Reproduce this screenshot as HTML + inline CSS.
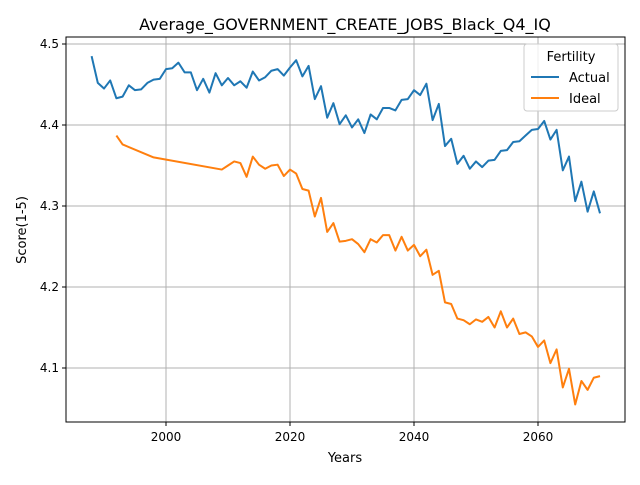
<!DOCTYPE html>
<html><head><meta charset="utf-8"><style>
body{margin:0;background:#fff;font-family:"Liberation Sans","DejaVu Sans",sans-serif}
text{font-family:"DejaVu Sans","Liberation Sans",sans-serif}
</style></head><body>
<svg id="c" width="640" height="480" xmlns="http://www.w3.org/2000/svg">
<rect width="640" height="480" fill="#fff"/>
<text x="345" y="30" font-size="16" text-anchor="middle">Average_GOVERNMENT_CREATE_JOBS_Black_Q4_IQ</text>
<g id="grid"></g><g id="series"></g>
<rect x="66" y="37" width="559" height="385" fill="none" stroke="#000" stroke-width="1"/>
<g id="ticks"></g>
<text x="345" y="462" font-size="13" text-anchor="middle">Years</text>
<text x="26" y="230" font-size="13" text-anchor="middle" transform="rotate(-90 26 230)">Score(1-5)</text>
<g>
<rect x="524" y="44" width="94" height="67" rx="3" fill="#fff" fill-opacity="0.8" stroke="#ccc"/>
<text x="571" y="61" font-size="13" text-anchor="middle">Fertility</text>
<g><line x1="531" y1="77" x2="559" y2="77" stroke="#1f77b4" stroke-width="2"/><text x="569" y="82" font-size="13">Actual</text></g>
<g><line x1="531" y1="98" x2="559" y2="98" stroke="#ff7f0e" stroke-width="2"/><text x="569" y="103" font-size="13">Ideal</text></g>
</g>
</svg>
<script>
const actualYears=[];for(let y=1988;y<=2070;y++)actualYears.push(y);
const actualValues=[4.485,4.452,4.445,4.455,4.433,4.435,4.449,4.443,4.444,4.452,4.456,4.457,4.469,4.470,4.477,4.465,4.465,4.443,4.457,4.440,4.464,4.449,4.458,4.449,4.454,4.446,4.466,4.455,4.459,4.467,4.469,4.461,4.471,4.480,4.460,4.473,4.432,4.448,4.409,4.427,4.401,4.412,4.397,4.407,4.390,4.413,4.407,4.421,4.421,4.418,4.431,4.432,4.443,4.437,4.451,4.406,4.426,4.374,4.383,4.352,4.362,4.346,4.355,4.348,4.356,4.357,4.368,4.369,4.379,4.380,4.387,4.394,4.395,4.405,4.382,4.394,4.344,4.361,4.306,4.330,4.293,4.318,4.291];
const idealYears=[1992,1993,1998];for(let y=2009;y<=2070;y++)idealYears.push(y);
const idealValues=[4.387,4.376,4.360,4.345,4.350,4.355,4.353,4.336,4.361,4.351,4.346,4.350,4.351,4.337,4.345,4.340,4.321,4.319,4.287,4.310,4.268,4.279,4.256,4.257,4.259,4.253,4.243,4.259,4.255,4.264,4.264,4.245,4.262,4.245,4.252,4.238,4.246,4.215,4.220,4.181,4.179,4.161,4.159,4.154,4.160,4.157,4.163,4.150,4.170,4.150,4.161,4.142,4.144,4.139,4.126,4.134,4.106,4.123,4.076,4.099,4.055,4.084,4.073,4.088,4.090];
const xTicks=[2000,2020,2040,2060];
const yTicks=[4.1,4.2,4.3,4.4,4.5];
const yTickLabels=["4.1","4.2","4.3","4.4","4.5"];
const X=v=>166+(v-2000)*6.2;
const Y=v=>44+(4.5-v)*810;
const NS="http://www.w3.org/2000/svg";
function mk(tag,attrs,parent){const e=document.createElementNS(NS,tag);for(const k in attrs)e.setAttribute(k,attrs[k]);document.getElementById(parent).appendChild(e);return e;}
xTicks.forEach(t=>{
const g=mk('line',{x1:X(t),x2:X(t),y1:37,y2:422,stroke:'#b0b0b0','stroke-width':1},'grid');


mk('line',{x1:X(t),x2:X(t),y1:422,y2:426,stroke:'#000'},'ticks');
const l=mk('text',{x:X(t),y:441,'font-size':12,'text-anchor':'middle'},'ticks');l.textContent=t;


});
yTicks.forEach((t,i)=>{
const g=mk('line',{x1:66,x2:625,y1:Y(t),y2:Y(t),stroke:'#b0b0b0','stroke-width':1},'grid');


mk('line',{x1:62,x2:66,y1:Y(t),y2:Y(t),stroke:'#000'},'ticks');
const l=mk('text',{x:59,y:Y(t)+4,'font-size':12,'text-anchor':'end'},'ticks');l.textContent=yTickLabels[i];


});
function line(xs,vs,color,name){
const p=mk('polyline',{points:xs.map((x,i)=>X(x)+','+Y(vs[i])).join(' '),fill:'none',stroke:color,'stroke-width':2,'stroke-linejoin':'round'},'series');


}
line(actualYears,actualValues,'#1f77b4','actual-line');
line(idealYears,idealValues,'#ff7f0e','ideal-line');
</script>
</body></html>
